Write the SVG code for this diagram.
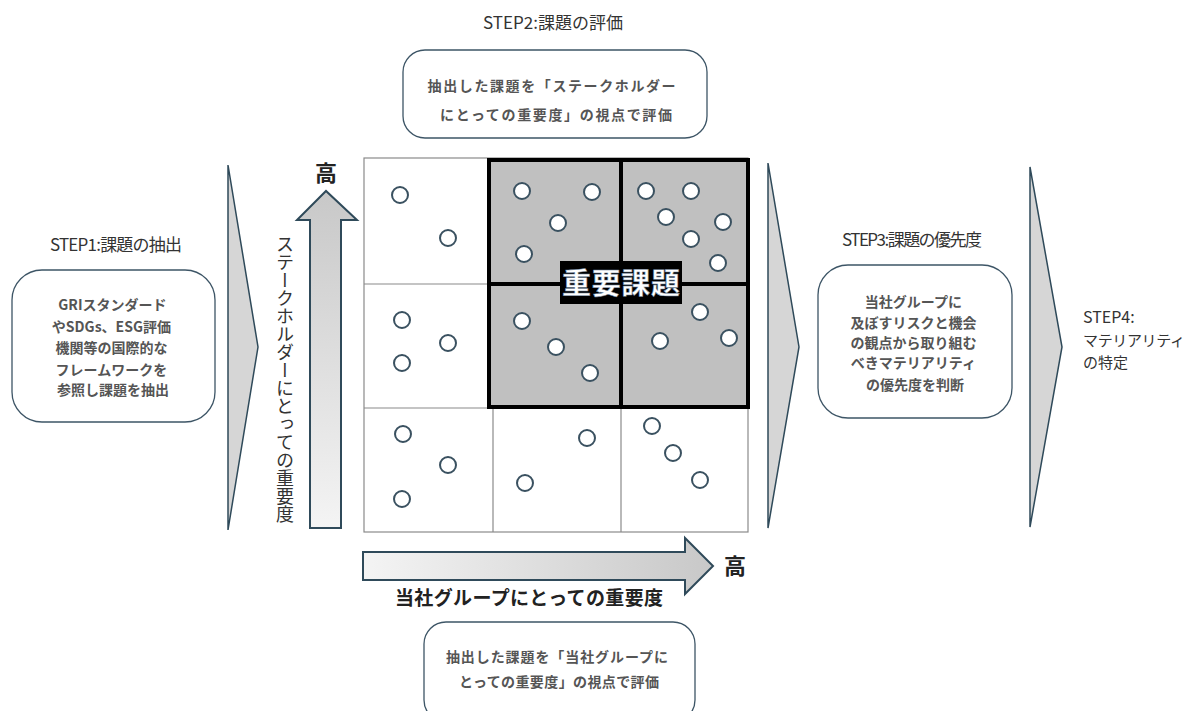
<svg xmlns="http://www.w3.org/2000/svg" width="1194" height="711" viewBox="0 0 1194 711">
<defs>
<style>
.t{font-family:"Noto Sans CJK JP","Liberation Sans",sans-serif;fill:#333}
.step{font-size:17px}
.box{fill:#fff;stroke:#3d5566;stroke-width:1.3}
.bt{font-family:"Noto Sans CJK JP","Liberation Sans",sans-serif;font-size:14px;fill:#555;font-weight:bold}
.chev{fill:#d6d6d6;stroke:#2f4a5a;stroke-width:1.5}
.dot{fill:#fff;stroke:#3a5160;stroke-width:2}
.thin{stroke:#8a8a8a;stroke-width:1.2;fill:none}
.thick{stroke:#000;stroke-width:4;fill:none}
.ax{font-family:"Noto Sans CJK JP","Liberation Sans",sans-serif;fill:#222;font-weight:bold}
.vt{font-family:"Noto Sans CJK JP","Liberation Sans",sans-serif;fill:#333;font-size:18px;writing-mode:vertical-rl}
</style>
<linearGradient id="gv" x1="0" y1="1" x2="0" y2="0">
<stop offset="0" stop-color="#f4f4f4"/><stop offset="1" stop-color="#c8c8c8"/>
</linearGradient>
<linearGradient id="gh" x1="0" y1="0" x2="1" y2="0">
<stop offset="0" stop-color="#f4f4f4"/><stop offset="1" stop-color="#c8c8c8"/>
</linearGradient>
</defs>
<rect width="1194" height="711" fill="#fff"/>

<g id="connectors">
<polygon class="chev" points="228,165 258,347 228,530"/>
<polygon class="chev" points="768,163 799,347 768,528"/>
<polygon class="chev" points="1030,167 1062,347 1030,527"/>
</g>

<g id="step1">
<text class="t step" x="116" y="251" text-anchor="middle" textLength="132">STEP1:課題の抽出</text>
<rect class="box" x="12" y="270" width="203" height="152" rx="30"/>
<text class="bt" text-anchor="middle">
<tspan x="114" y="310">GRIスタンダード</tspan>
<tspan x="113" y="332">やSDGs、ESG評価</tspan>
<tspan x="113" y="353">機関等の国際的な</tspan>
<tspan x="113" y="375">フレームワークを</tspan>
<tspan x="113" y="395">参照し課題を抽出</tspan>
</text>
</g>

<g id="step2">
<text class="t step" x="553" y="29" text-anchor="middle" textLength="140">STEP2:課題の評価</text>
<rect class="box" x="403" y="50" width="304" height="88" rx="22"/>
<text class="bt" text-anchor="middle">
<tspan x="554" y="91" textLength="248">抽出した課題を「ステークホルダー</tspan>
<tspan x="556" y="120" textLength="232">にとっての重要度」の視点で評価</tspan>
</text>
</g>

<g id="matrix">
<rect x="489" y="160" width="259" height="247" fill="#c0c0c0"/>
<rect class="thin" x="364" y="158" width="384" height="374"/>
<line class="thin" x1="364" y1="284" x2="489" y2="284"/>
<line class="thin" x1="364" y1="408" x2="748" y2="408"/>
<line class="thin" x1="493" y1="408" x2="493" y2="532"/>
<line class="thin" x1="621" y1="408" x2="621" y2="532"/>
<rect class="thick" x="489" y="160" width="259" height="247"/>
<line class="thick" x1="621" y1="160" x2="621" y2="407"/>
<line class="thick" x1="489" y1="284" x2="748" y2="284"/>
<g>
<circle class="dot" cx="400" cy="195" r="8"/>
<circle class="dot" cx="448" cy="238" r="8"/>
<circle class="dot" cx="522" cy="191" r="8"/>
<circle class="dot" cx="592" cy="192" r="8"/>
<circle class="dot" cx="558" cy="223" r="8"/>
<circle class="dot" cx="524" cy="254" r="8"/>
<circle class="dot" cx="646" cy="191" r="8"/>
<circle class="dot" cx="691" cy="191" r="8"/>
<circle class="dot" cx="666" cy="217" r="8"/>
<circle class="dot" cx="723" cy="222" r="8"/>
<circle class="dot" cx="691" cy="239" r="8"/>
<circle class="dot" cx="718" cy="263" r="8"/>
<circle class="dot" cx="402" cy="320" r="8"/>
<circle class="dot" cx="448" cy="343" r="8"/>
<circle class="dot" cx="402" cy="363" r="8"/>
<circle class="dot" cx="522" cy="321" r="8"/>
<circle class="dot" cx="556" cy="347" r="8"/>
<circle class="dot" cx="590" cy="373" r="8"/>
<circle class="dot" cx="700" cy="312" r="8"/>
<circle class="dot" cx="660" cy="341" r="8"/>
<circle class="dot" cx="729" cy="338" r="8"/>
<circle class="dot" cx="403" cy="434" r="8"/>
<circle class="dot" cx="448" cy="465" r="8"/>
<circle class="dot" cx="402" cy="499" r="8"/>
<circle class="dot" cx="587" cy="438" r="8"/>
<circle class="dot" cx="525" cy="483" r="8"/>
<circle class="dot" cx="652" cy="426" r="8"/>
<circle class="dot" cx="673" cy="453" r="8"/>
<circle class="dot" cx="700" cy="480" r="8"/>
</g>
</g>

<g id="key-label">
<rect x="560" y="261" width="122" height="43" fill="#000"/>
<text x="621" y="294" text-anchor="middle" font-family="Noto Sans CJK JP, sans-serif" font-size="29" font-weight="bold" fill="#fff" stroke="#6a7f9a" stroke-width="0.5" textLength="118">重要課題</text>
</g>

<g id="y-axis">
<polygon points="310,528 341,528 341,220 357,220 326,191 297,220 310,220" fill="url(#gv)" stroke="#2f4a5a" stroke-width="2"/>
<text class="ax" x="326" y="181" text-anchor="middle" font-size="22">高</text>
<text class="vt" x="285" y="235">ステークホルダーにとっての重要度</text>
</g>

<g id="x-axis">
<polygon points="363,552 685,552 685,538 713,566 685,594 685,580 363,580" fill="url(#gh)" stroke="#2f4a5a" stroke-width="2"/>
<text class="ax" x="735" y="574" text-anchor="middle" font-size="22">高</text>
<text class="ax" x="529" y="605" text-anchor="middle" font-size="19" textLength="268" fill="#333">当社グループにとっての重要度</text>
</g>

<g id="bottom-box">
<rect class="box" x="424" y="622" width="271" height="100" rx="22"/>
<text class="bt" text-anchor="middle">
<tspan x="559" y="662" textLength="222">抽出した課題を「当社グループに</tspan>
<tspan x="559" y="687" textLength="200">とっての重要度」の視点で評価</tspan>
</text>
</g>

<g id="step3">
<text class="t step" x="912" y="246" text-anchor="middle" textLength="140">STEP3:課題の優先度</text>
<rect class="box" x="818" y="265" width="194" height="153" rx="30"/>
<text class="bt" text-anchor="middle">
<tspan x="915" y="307">当社グループに</tspan>
<tspan x="915" y="328">及ぼすリスクと機会</tspan>
<tspan x="915" y="348">の観点から取り組む</tspan>
<tspan x="915" y="368">べきマテリアリティ</tspan>
<tspan x="915" y="390">の優先度を判断</tspan>
</text>
</g>

<g id="step4">
<text class="t" font-size="16" x="1083" y="323">STEP4:</text>
<text class="t" font-size="15" x="1083" y="346" textLength="102">マテリアリティ</text>
<text class="t" font-size="15" x="1083" y="368">の特定</text>
</g>
</svg>
